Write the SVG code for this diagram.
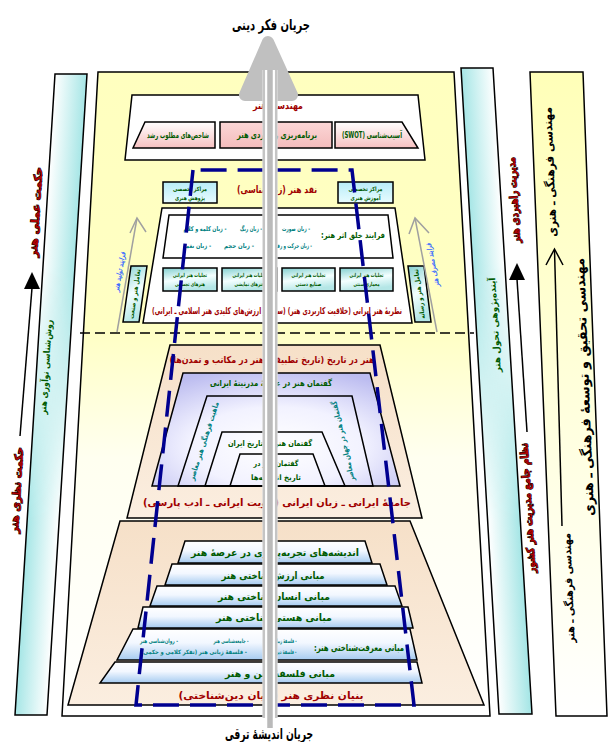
<svg xmlns="http://www.w3.org/2000/svg" width="610" height="742" viewBox="0 0 610 742">
<defs>
<style>
text{font-family:"DejaVu Sans",sans-serif;font-weight:bold;text-anchor:middle;dominant-baseline:central;direction:rtl}
.r{fill:#a00000}
.g{fill:#005a00}
.tl{fill:#008080}
.k{fill:#000}
.bl{fill:#3a6cff;font-style:italic}
.rs{fill:#b00000;stroke:#000;stroke-width:1.1;paint-order:stroke}
.bx{stroke:#000;stroke-width:1.5}
.ln{stroke:#000;stroke-width:1.5;fill:none}
</style>
<linearGradient id="mainG" x1="0" y1="0" x2="0" y2="1"><stop offset="0" stop-color="#ffffbf"/><stop offset="0.4" stop-color="#ffffc4"/><stop offset="0.6" stop-color="#fffff0"/><stop offset="1" stop-color="#ffffff"/></linearGradient>
<linearGradient id="ylwBand" x1="0" y1="0" x2="0" y2="1"><stop offset="0" stop-color="#ffffb8"/><stop offset="1" stop-color="#ffffff"/></linearGradient>
<linearGradient id="cyL1" gradientUnits="userSpaceOnUse" x1="0" y1="0" x2="32" y2="0" gradientTransform="translate(59.6 0) skewX(-3.57)"><stop offset="0" stop-color="#ffffff"/><stop offset="1" stop-color="#a6e6e6"/></linearGradient>
<linearGradient id="cyL2" gradientUnits="userSpaceOnUse" x1="0" y1="0" x2="32" y2="0" gradientTransform="translate(59.6 0) skewX(-3.57)"><stop offset="0" stop-color="#a6e6e6"/><stop offset="1" stop-color="#ffffff"/></linearGradient>
<linearGradient id="cyR1" gradientUnits="userSpaceOnUse" x1="0" y1="0" x2="32" y2="0" gradientTransform="translate(457 0) skewX(3.37)"><stop offset="0" stop-color="#a6e6e6"/><stop offset="1" stop-color="#ffffff"/></linearGradient>
<linearGradient id="cyR2" gradientUnits="userSpaceOnUse" x1="0" y1="0" x2="32" y2="0" gradientTransform="translate(457 0) skewX(3.37)"><stop offset="0" stop-color="#ffffff"/><stop offset="1" stop-color="#a6e6e6"/></linearGradient>
<linearGradient id="vfade" x1="0" y1="0" x2="0" y2="1"><stop offset="0.3" stop-color="#000"/><stop offset="0.7" stop-color="#fff"/></linearGradient>
<mask id="fadeMask" maskContentUnits="objectBoundingBox"><rect x="0" y="0" width="1" height="1" fill="url(#vfade)"/></mask>
<linearGradient id="pinkG" x1="0" y1="0" x2="0" y2="1"><stop offset="0" stop-color="#ffffff"/><stop offset="1" stop-color="#f6c0c0"/></linearGradient>
<linearGradient id="pinkM" x1="0" y1="0" x2="0" y2="1"><stop offset="0" stop-color="#fbd6d6"/><stop offset="1" stop-color="#f4bcbc"/></linearGradient>
<linearGradient id="cyBox" x1="0" y1="0" x2="0" y2="1"><stop offset="0" stop-color="#b8ecf8"/><stop offset="1" stop-color="#e8fcff"/></linearGradient>
<linearGradient id="tealBox" x1="0" y1="0" x2="0.3" y2="1"><stop offset="0" stop-color="#84d0d0"/><stop offset="0.55" stop-color="#f4ffff"/><stop offset="1" stop-color="#b4e6e6"/></linearGradient>
<radialGradient id="lav" cx="0.5" cy="0.65" r="0.7"><stop offset="0" stop-color="#ffffff"/><stop offset="0.5" stop-color="#f2f2ff"/><stop offset="1" stop-color="#bcbcf0"/></radialGradient>
<linearGradient id="beige" x1="0" y1="0" x2="0" y2="1"><stop offset="0" stop-color="#f6e0c8"/><stop offset="1" stop-color="#fbeee0"/></linearGradient>
<linearGradient id="step" x1="0" y1="0" x2="0" y2="1"><stop offset="0" stop-color="#ffffff"/><stop offset="0.45" stop-color="#f2f7ff"/><stop offset="1" stop-color="#a6cbf0"/></linearGradient>
</defs>

<g id="bands">
  <polygon points="55,74 87,74 47,715 15,715" fill="url(#cyL1)"/>
  <polygon points="55,74 87,74 47,715 15,715" fill="url(#cyL2)" mask="url(#fadeMask)"/>
  <polygon points="55,74 87,74 47,715 15,715" class="ln"/>
  <polygon points="461,68 493,68 532,714 499,714" fill="url(#cyR1)"/>
  <polygon points="461,68 493,68 532,714 499,714" fill="url(#cyR2)" mask="url(#fadeMask)"/>
  <polygon points="461,68 493,68 532,714 499,714" class="ln"/>
  <polygon points="530,72 583,72 607,716 556,716" class="ln" style="fill:url(#ylwBand)"/>
</g>

<g id="main-frame">
  <polygon points="98,72 454,72 490,716 62,716" fill="url(#mainG)" class="bx"/>
  <line x1="80" y1="333" x2="474" y2="333" stroke="#000" stroke-width="1.5" stroke-dasharray="10 5"/>
</g>

<g id="art-engineering">
  <polygon points="132,95 418,95 425,160 125,160" fill="#fff" class="bx"/>
  <text class="r" x="278" y="105" font-size="10" textLength="50" lengthAdjust="spacingAndGlyphs">مهندسی هنر</text>
</g>
<g id="desired-indicators">
  <polygon points="145,122 215,122 215,148 133,148" fill="url(#pinkG)" class="bx"/>
  <text class="g" x="178" y="135" font-size="8" textLength="62" lengthAdjust="spacingAndGlyphs">شاخص‌های مطلوب رشد</text>
</g>
<g id="strategic-planning">
  <rect x="220" y="122" width="112" height="26" fill="url(#pinkM)" class="bx"/>
  <text class="g" x="277" y="135" font-size="9" textLength="80" lengthAdjust="spacingAndGlyphs">برنامه‌ریزی راهبردی هنر</text>
</g>
<g id="swot">
  <polygon points="335,122 402,122 418,148 335,148" fill="url(#pinkG)" class="bx"/>
  <text class="g" x="372" y="135" font-size="8.5" textLength="60" lengthAdjust="spacingAndGlyphs">آسیب‌شناسی (SWOT)</text>
</g>

<g id="art-criticism">
  <text class="r" x="277" y="189" font-size="10" textLength="80" lengthAdjust="spacingAndGlyphs">نقد هنر (زیباشناسی)</text>
</g>
<g id="centers-left">
  <rect x="163" y="182" width="54" height="21" fill="url(#cyBox)" class="bx"/>
  <text class="g" x="190" y="188.5" font-size="6" textLength="34" lengthAdjust="spacingAndGlyphs">مراکز تخصصی</text>
  <text class="g" x="190" y="197" font-size="6" textLength="30" lengthAdjust="spacingAndGlyphs">پژوهش هنری</text>
</g>
<g id="centers-right">
  <rect x="338" y="182" width="55" height="21" fill="url(#cyBox)" class="bx"/>
  <text class="g" x="365.5" y="188.5" font-size="6" textLength="34" lengthAdjust="spacingAndGlyphs">مراکز تخصصی</text>
  <text class="g" x="365.5" y="197" font-size="6" textLength="30" lengthAdjust="spacingAndGlyphs">آموزش هنری</text>
</g>

<g id="iranian-art-theory">
  <polygon points="162,208 395,208 412,323 143,323" fill="#fff" class="bx"/>
  <polygon points="169,215 388,215 393,258 163,258" fill="#fff" class="bx"/>
  <text class="g" x="353" y="235" font-size="8" textLength="64" lengthAdjust="spacingAndGlyphs">فرایند خلق اثر هنر:</text>
  <text class="tl" x="296" y="229" font-size="6.5" textLength="28" lengthAdjust="spacingAndGlyphs">- زبان صورت</text>
  <text class="tl" x="251" y="229" font-size="6.5" textLength="22" lengthAdjust="spacingAndGlyphs">- زبان رنگ</text>
  <text class="tl" x="205" y="229" font-size="6.5" textLength="43" lengthAdjust="spacingAndGlyphs">- زبان کلمه و کلام</text>
  <text class="tl" x="292" y="246" font-size="6.5" textLength="40" lengthAdjust="spacingAndGlyphs">- زبان حرکت و رفتار</text>
  <text class="tl" x="239" y="246" font-size="6.5" textLength="30" lengthAdjust="spacingAndGlyphs">- زبان حجم</text>
  <text class="tl" x="197" y="246" font-size="6.5" textLength="28" lengthAdjust="spacingAndGlyphs">- زبان نغمه</text>
  <text class="r" x="277" y="310" font-size="9.5" textLength="250" lengthAdjust="spacingAndGlyphs">نظریهٔ هنر ایرانی (خلاقیت کاربردی هنر) (سنت و ارزش‌های کلیدی هنر اسلامی ـ ایرانی)</text>
</g>
<g id="manifest-1">
  <rect x="163" y="268" width="54" height="23" fill="url(#tealBox)" class="bx"/>
  <text class="g" x="190" y="275" font-size="5.5" textLength="34" lengthAdjust="spacingAndGlyphs">تجلیات هنر ایرانی</text>
  <text class="g" x="190" y="284" font-size="5.5" textLength="30" lengthAdjust="spacingAndGlyphs">هنرهای تجسمی</text>
</g>
<g id="manifest-2">
  <rect x="222" y="268" width="55" height="23" fill="url(#tealBox)" class="bx"/>
  <text class="g" x="249.5" y="275" font-size="5.5" textLength="34" lengthAdjust="spacingAndGlyphs">تجلیات هنر ایرانی</text>
  <text class="g" x="249.5" y="284" font-size="5.5" textLength="30" lengthAdjust="spacingAndGlyphs">هنرهای نمایشی</text>
</g>
<g id="manifest-3">
  <rect x="282" y="268" width="53" height="23" fill="url(#tealBox)" class="bx"/>
  <text class="g" x="308.5" y="275" font-size="5.5" textLength="34" lengthAdjust="spacingAndGlyphs">تجلیات هنر ایرانی</text>
  <text class="g" x="308.5" y="284" font-size="5.5" textLength="26" lengthAdjust="spacingAndGlyphs">صنایع دستی</text>
</g>
<g id="manifest-4">
  <rect x="340" y="268" width="53" height="23" fill="url(#tealBox)" class="bx"/>
  <text class="g" x="366.5" y="275" font-size="5.5" textLength="34" lengthAdjust="spacingAndGlyphs">تجلیات هنر ایرانی</text>
  <text class="g" x="366.5" y="284" font-size="5.5" textLength="26" lengthAdjust="spacingAndGlyphs">معماری سنتی</text>
</g>
<g id="side-box-left">
  <polygon points="131,266 147,266 139,322 123,322" fill="url(#tealBox)" class="bx"/>
  <text class="g" transform="translate(135 294) rotate(-82)" x="0" y="0" font-size="6.5" textLength="50" lengthAdjust="spacingAndGlyphs">تعامل هنر و صنعت</text>
</g>
<g id="side-box-right">
  <polygon points="408,266 424,266 431,322 415,322" fill="url(#tealBox)" class="bx"/>
  <text class="g" transform="translate(419.5 294) rotate(-98)" x="0" y="0" font-size="6.5" textLength="50" lengthAdjust="spacingAndGlyphs">تعامل هنر و رسانه</text>
</g>
<g id="process-labels">
  <text class="bl" transform="translate(120 272) rotate(-80)" x="0" y="0" font-size="7" textLength="40" lengthAdjust="spacingAndGlyphs">فرایند تولید هنر</text>
  <text class="bl" transform="translate(433 265) rotate(-101)" x="0" y="0" font-size="7" textLength="44" lengthAdjust="spacingAndGlyphs">فرایند مصرف هنر</text>
</g>

<g id="art-in-history">
  <polygon points="170,345 380,345 422,518 127,518" fill="url(#beige)" class="bx"/>
  <text class="r" x="272" y="359" font-size="9.5" textLength="205" lengthAdjust="spacingAndGlyphs">هنر در تاریخ (تاریخ تطبیقی هنر در مکاتب و تمدن‌ها)</text>
  <text class="r" x="277" y="502" font-size="10" textLength="268" lengthAdjust="spacingAndGlyphs">جامعهٔ ایرانی ـ زبان ایرانی (هویت ایرانی ـ ادب پارسی)</text>
</g>
<g id="discourse-modernity">
  <polygon points="183,373 370,373 400,486 152,486" fill="url(#lav)" class="bx"/>
  <text class="g" x="271" y="383" font-size="8.5" textLength="122" lengthAdjust="spacingAndGlyphs">گفتمان هنر در عرصهٔ مدرنیتهٔ ایرانی</text>
</g>
<g id="discourse-contemporary">
  <polygon points="207,396 352,396 373,486 178,486" fill="none" class="bx"/>
  <text class="tl" transform="translate(204 441) rotate(-72)" x="0" y="0" font-size="7.5" textLength="82" lengthAdjust="spacingAndGlyphs">ماهیت فرهنگی هنر معاصر</text>
  <text class="tl" transform="translate(343 441) rotate(-103)" x="0" y="0" font-size="7.5" textLength="82" lengthAdjust="spacingAndGlyphs">گفتمان هنر در جهان معاصر</text>
</g>
<g id="discourse-iran-history">
  <polygon points="222,432 322,432 345,486 205,486" fill="none" class="bx"/>
  <text class="g" x="270" y="443" font-size="8" textLength="84" lengthAdjust="spacingAndGlyphs">گفتمان هنر در تاریخ ایران</text>
</g>
<g id="discourse-ideas">
  <polygon points="240,454 313,454 325,486 230,486" fill="none" class="bx"/>
  <text class="g" x="276" y="463" font-size="7.5" textLength="45" lengthAdjust="spacingAndGlyphs">گفتمان هنر در</text>
  <text class="g" x="276" y="477" font-size="7.5" textLength="50" lengthAdjust="spacingAndGlyphs">تاریخ اندیشه‌ها</text>
</g>

<g id="theoretical-foundation">
  <polygon points="120,521 410,521 484,705 68,705" fill="url(#beige)" class="bx"/>
  <text class="r" x="271" y="695" font-size="10" textLength="185" lengthAdjust="spacingAndGlyphs">بنیان نظری هنر (بنیان دین‌شناختی)</text>
</g>
<g id="step-1">
  <polygon points="185,541 365,541 372,563 178,563" fill="url(#step)" class="bx"/>
  <text class="g" x="275" y="552" font-size="10" textLength="168" lengthAdjust="spacingAndGlyphs">اندیشه‌های تجربه‌پذیری در عرصهٔ هنر</text>
</g>
<g id="step-2">
  <polygon points="172,564 380,564 387,585 165,585" fill="url(#step)" class="bx"/>
  <text class="g" x="273" y="575" font-size="10" textLength="103" lengthAdjust="spacingAndGlyphs">مبانی ارزش‌شناختی هنر</text>
</g>
<g id="step-3">
  <polygon points="157,586 395,586 402,606 150,606" fill="url(#step)" class="bx"/>
  <text class="g" x="274" y="596" font-size="10" textLength="112" lengthAdjust="spacingAndGlyphs">مبانی انسان‌شناختی هنر</text>
</g>
<g id="step-4">
  <polygon points="143,607 408,607 413,628 138,628" fill="url(#step)" class="bx"/>
  <text class="g" x="274" y="617" font-size="10" textLength="116" lengthAdjust="spacingAndGlyphs">مبانی هستی‌شناختی هنر</text>
</g>
<g id="step-5">
  <polygon points="133,629 410,629 417,660 117,660" fill="url(#step)" class="bx"/>
  <text class="g" x="359" y="647" font-size="9.5" textLength="90" lengthAdjust="spacingAndGlyphs">مبانی معرفت‌شناختی هنر:</text>
  <text class="tl" x="281" y="640" font-size="6" textLength="31" lengthAdjust="spacingAndGlyphs">- فلسفهٔ زیبایی هنر</text>
  <text class="tl" x="231" y="640" font-size="6" textLength="35" lengthAdjust="spacingAndGlyphs">- جامعه‌شناسی هنر</text>
  <text class="tl" x="159" y="640" font-size="6" textLength="38" lengthAdjust="spacingAndGlyphs">- روان‌شناسی هنر</text>
  <text class="tl" x="281" y="651" font-size="6" textLength="31" lengthAdjust="spacingAndGlyphs">- فلسفهٔ دین و هنر</text>
  <text class="tl" x="194" y="651" font-size="6" textLength="106" lengthAdjust="spacingAndGlyphs">- فلسفهٔ زبانی هنر (تفکر کلامی و حکمی)</text>
</g>
<g id="step-6">
  <polygon points="115,662 417,662 422,683 100,683" fill="url(#step)" class="bx"/>
  <text class="g" x="280" y="673" font-size="9.5" textLength="110" lengthAdjust="spacingAndGlyphs">مبانی فلسفهٔ دین و هنر</text>
</g>

<g id="side-labels">
  <text class="rs" transform="translate(36 212) rotate(-86.4)" x="0" y="0" font-size="11" textLength="90" lengthAdjust="spacingAndGlyphs">حکمت عملی هنر</text>
  <text class="rs" transform="translate(17 490) rotate(-86.4)" x="0" y="0" font-size="11" textLength="86" lengthAdjust="spacingAndGlyphs">حکمت نظری هنر</text>
  <text class="g" transform="translate(46 367) rotate(-86.4)" x="0" y="0" font-size="9" textLength="95" lengthAdjust="spacingAndGlyphs">روش‌شناسی نوآوری هنر</text>
  <text class="rs" transform="translate(514 200) rotate(-93.4)" x="0" y="0" font-size="11" textLength="86" lengthAdjust="spacingAndGlyphs">مدیریت راهبردی هنر</text>
  <text class="rs" transform="translate(528 508) rotate(-93.4)" x="0" y="0" font-size="11" textLength="130" lengthAdjust="spacingAndGlyphs">نظام جامع مدیریت هنر کشور</text>
  <text class="g" transform="translate(495 325) rotate(-93.4)" x="0" y="0" font-size="9" textLength="95" lengthAdjust="spacingAndGlyphs">آینده‌پژوهی تحول هنر</text>
  <text class="k" transform="translate(550 172) rotate(-92.3)" x="0" y="0" font-size="12" textLength="130" lengthAdjust="spacingAndGlyphs">مهندسی فرهنگی ـ هنری</text>
  <text class="k" transform="translate(584 387) rotate(-92.2)" x="0" y="0" font-size="14" textLength="258" lengthAdjust="spacingAndGlyphs">مهندسی تحقیق و توسعهٔ فرهنگی ـ هنری</text>
  <text class="k" transform="translate(569 588) rotate(-92.2)" x="0" y="0" font-size="11" textLength="110" lengthAdjust="spacingAndGlyphs">مهندسی فرهنگی ـ هنر</text>
</g>

<g id="connectors">
  <path d="M193,170 L136,705 L414,705 L352,170 Z" fill="none" stroke="#000090" stroke-width="3.5" stroke-dasharray="26 11"/>
  <polyline points="130,233 137,218 146,232" fill="none" stroke="#a0a0a0" stroke-width="1.5"/>
  <line x1="137" y1="218" x2="117" y2="332" stroke="#a0a0a0" stroke-width="1.5"/>
  <polyline points="409,234 415,218 429,233" fill="none" stroke="#a0a0a0" stroke-width="1.5"/>
  <line x1="415" y1="218" x2="437" y2="332" stroke="#a0a0a0" stroke-width="1.5"/>
  <polygon points="32,272 24,289 40,289" fill="#000"/>
  <line x1="32" y1="288" x2="20" y2="436" stroke="#000" stroke-width="1.5"/>
  <polygon points="517,263 509,280 525,280" fill="#000"/>
  <line x1="517" y1="279" x2="527" y2="432" stroke="#000" stroke-width="1.5"/>
  <polyline points="546,265 554.5,249 563,265" fill="none" stroke="#000" stroke-width="1.5"/>
  <line x1="554.5" y1="250" x2="562" y2="526" stroke="#000" stroke-width="1.5"/>
  <g id="thought-flow">
    <polygon points="268,42 245,95 292,95" fill="#c0c0c0" stroke="#c0c0c0" stroke-width="12" stroke-linejoin="round"/>
    <rect x="262.5" y="70" width="15" height="648" fill="#fff"/>
    <line x1="263.8" y1="70" x2="263.8" y2="718" stroke="#c4c4c4" stroke-width="2.5"/>
    <line x1="276.2" y1="70" x2="276.2" y2="718" stroke="#c4c4c4" stroke-width="2.5"/>
    <line x1="270" y1="70" x2="270" y2="728" stroke="#bababa" stroke-width="5.5"/>
  </g>
</g>

<g id="flow-labels">
  <text class="k" x="271" y="25" font-size="15" textLength="78" lengthAdjust="spacingAndGlyphs">جریان فکر دینی</text>
  <text class="k" x="269" y="734" font-size="15" textLength="88" lengthAdjust="spacingAndGlyphs">جریان اندیشهٔ ترقی</text>
</g>
</svg>
